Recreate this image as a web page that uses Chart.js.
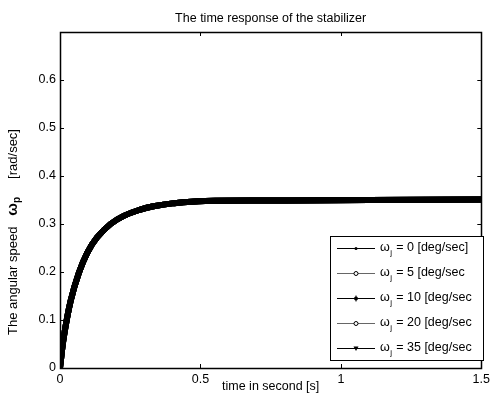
<!DOCTYPE html>
<html><head><meta charset="utf-8">
<script src="https://cdn.jsdelivr.net/npm/chart.js@4"></script>
<style>html,body{margin:0;padding:0;background:#fff}#c{display:block}</style>
</head><body>
<canvas id="c" width="494" height="403"></canvas>
<script>
// time [s]
const timeS   = [0, 0.014, 0.038, 0.067, 0.097, 0.132, 0.18, 0.227, 0.286, 0.333, 0.4, 0.517, 0.81, 1.1, 1.5];
// angular speed [rad/sec] for each omega_j (curves overlap)
const omega0  = [0, 0.066, 0.140, 0.198, 0.240, 0.272, 0.300, 0.317, 0.330, 0.337, 0.343, 0.348, 0.349, 0.350, 0.351];
const omega5  = [0, 0.066, 0.140, 0.198, 0.240, 0.272, 0.300, 0.317, 0.330, 0.337, 0.343, 0.348, 0.349, 0.350, 0.351];
const omega10 = [0, 0.066, 0.140, 0.198, 0.240, 0.272, 0.300, 0.317, 0.330, 0.337, 0.343, 0.348, 0.349, 0.350, 0.351];
const omega20 = [0, 0.066, 0.140, 0.198, 0.240, 0.272, 0.300, 0.317, 0.330, 0.337, 0.343, 0.348, 0.349, 0.350, 0.351];
const omega35 = [0, 0.066, 0.140, 0.198, 0.240, 0.272, 0.300, 0.317, 0.330, 0.337, 0.343, 0.348, 0.349, 0.350, 0.351];
const seriesLabels = ['= 0 [deg/sec]', '= 5 [deg/sec', '= 10 [deg/sec', '= 20 [deg/sec', '= 35 [deg/sec'];
const xTickValues = [0, 0.5, 1, 1.5];
const yTickValues = [0, 0.1, 0.2, 0.3, 0.4, 0.5, 0.6, 0.7];
const yTickLabels = ['0', '0.1', '0.2', '0.3', '0.4', '0.5', '0.6', ''];
const xTickLabels = ['0', '0.5', '1', '1.5'];

const FONT = "'Liberation Sans', Arial, sans-serif";
const FS = 12.5;
const seriesData = [omega0, omega5, omega10, omega20, omega35];
const lineColors = ['#000', '#666', '#000', '#666', '#000'];
const markerKinds = ['dot', 'circle', 'star', 'circle', 'tri'];

const datasets = seriesData.map((arr, k) => ({
  label: 'ωj ' + seriesLabels[k],
  data: timeS.map((t, i) => ({x: t, y: arr[i]})),
  borderColor: '#000',
  borderWidth: 6,
  pointRadius: 0,
  tension: 0.4,
  fill: false
}));

function drawMarker(ctx, kind, x, y) {
  ctx.save();
  ctx.fillStyle = '#000'; ctx.strokeStyle = '#000'; ctx.lineWidth = 1;
  if (kind === 'dot') { ctx.beginPath(); ctx.arc(x, y, 1.5, 0, 2*Math.PI); ctx.fill(); }
  else if (kind === 'circle') { ctx.beginPath(); ctx.arc(x, y, 2, 0, 2*Math.PI); ctx.fillStyle='#fff'; ctx.fill(); ctx.stroke(); }
  else if (kind === 'star') { ctx.beginPath(); ctx.arc(x, y, 2, 0, 2*Math.PI); ctx.fill(); ctx.beginPath(); ctx.moveTo(x, y-3); ctx.lineTo(x, y+3); ctx.stroke(); }
  else if (kind === 'tri') { ctx.beginPath(); ctx.moveTo(x-2.5, y-2); ctx.lineTo(x+2.5, y-2); ctx.lineTo(x, y+2.5); ctx.closePath(); ctx.fill(); }
  ctx.restore();
}

const framePlugin = {
  id: 'frame',
  afterDraw(chart) {
    const ctx = chart.ctx, a = chart.chartArea;
    const xs = chart.scales.x, ys = chart.scales.y;
    ctx.save();
    ctx.strokeStyle = '#000'; ctx.lineWidth = 1;
    // inward ticks
    ctx.beginPath();
    xTickValues.forEach(v => {
      const px = Math.round(xs.getPixelForValue(v)) + 0.5;
      ctx.moveTo(px, a.bottom); ctx.lineTo(px, a.bottom - 4);
      ctx.moveTo(px, a.top); ctx.lineTo(px, a.top + 4);
    });
    yTickValues.forEach(v => {
      const py = Math.round(ys.getPixelForValue(v)) + 0.5;
      ctx.moveTo(a.left, py); ctx.lineTo(a.left + 4, py);
      ctx.moveTo(a.right, py); ctx.lineTo(a.right - 4, py);
    });
    ctx.stroke();
    // box
    ctx.lineWidth = 1.5;
    ctx.strokeRect(Math.round(a.left)+0.5, Math.round(a.top)+0.5, Math.round(a.right - a.left), Math.round(a.bottom - a.top));
    // title
    ctx.fillStyle = '#000';
    ctx.font = FS + 'px ' + FONT;
    ctx.textAlign = 'center'; ctx.textBaseline = 'middle';
    ctx.fillText('The time response of the stabilizer', (a.left + a.right) / 2, 19);
    // x label
    ctx.fillText('time in second [s]', (a.left + a.right) / 2, 387);
    // y label (rotated)
    ctx.save();
    ctx.translate(13, 232);
    ctx.rotate(-Math.PI / 2);
    const parts = [
      {t: 'The angular speed   ', f: '13px ' + FONT, dy: 0},
      {t: 'ω', f: 'bold 15px ' + FONT, dy: 0},
      {t: 'p', f: 'bold 10px ' + FONT, dy: 4},
      {t: '     [rad/sec]', f: '13px ' + FONT, dy: 0}
    ];
    let total = 0;
    parts.forEach(p => { ctx.font = p.f; p.w = ctx.measureText(p.t).width; total += p.w; });
    let cx = -total / 2;
    ctx.textAlign = 'left';
    parts.forEach(p => { ctx.font = p.f; ctx.fillText(p.t, cx, p.dy); cx += p.w; });
    ctx.restore();
    // legend
    const lx = 330, ly = 236, lw = 153, lh = 124;
    ctx.fillStyle = '#fff';
    ctx.fillRect(lx, ly, lw, lh);
    ctx.lineWidth = 1;
    ctx.strokeStyle = '#000';
    ctx.strokeRect(lx + 0.5, ly + 0.5, lw, lh);
    seriesLabels.forEach((lab, k) => {
      const yy = ly + 12 + k * 25;
      ctx.strokeStyle = lineColors[k];
      ctx.lineWidth = 1;
      ctx.beginPath(); ctx.moveTo(337, yy + 0.5); ctx.lineTo(375, yy + 0.5); ctx.stroke();
      drawMarker(ctx, markerKinds[k], 356, yy + 0.5);
      ctx.fillStyle = '#000';
      ctx.textAlign = 'left'; ctx.textBaseline = 'middle';
      ctx.font = FS + 'px ' + FONT;
      ctx.fillText('ω', 380, yy);
      const w1 = ctx.measureText('ω').width;
      ctx.font = '8px ' + FONT;
      ctx.fillText('j', 380 + w1 + 0.5, yy + 5);
      ctx.font = FS + 'px ' + FONT;
      ctx.fillText(' ' + lab, 380 + w1 + 3, yy);
    });
    ctx.restore();
  }
};

new Chart(document.getElementById('c'), {
  type: 'line',
  data: { datasets },
  options: {
    responsive: false,
    animation: false,
    layout: { padding: { top: 32, right: 9, left: 0, bottom: 0 } },
    plugins: { legend: { display: false }, title: { display: false }, tooltip: { enabled: false } },
    scales: {
      x: {
        type: 'linear', min: 0, max: 1.5,
        afterBuildTicks: s => { s.ticks = xTickValues.map(v => ({value: v})); },
        afterFit: s => { s.height = 35; },
        grid: { display: false, drawTicks: false },
        border: { display: false },
        ticks: { color: '#000', font: { family: FONT, size: FS }, padding: 4, maxRotation: 0, autoSkip: false,
                 callback: (v, i) => xTickLabels[i] }
      },
      y: {
        type: 'linear', min: 0, max: 0.7,
        afterBuildTicks: s => { s.ticks = yTickValues.map(v => ({value: v})); },
        afterFit: s => { s.width = 60; },
        grid: { display: false, drawTicks: false },
        border: { display: false },
        ticks: { color: '#000', font: { family: FONT, size: FS }, padding: 4, autoSkip: false,
                 callback: (v, i) => yTickLabels[i] }
      }
    }
  },
  plugins: [framePlugin]
});
</script>
</body></html>
